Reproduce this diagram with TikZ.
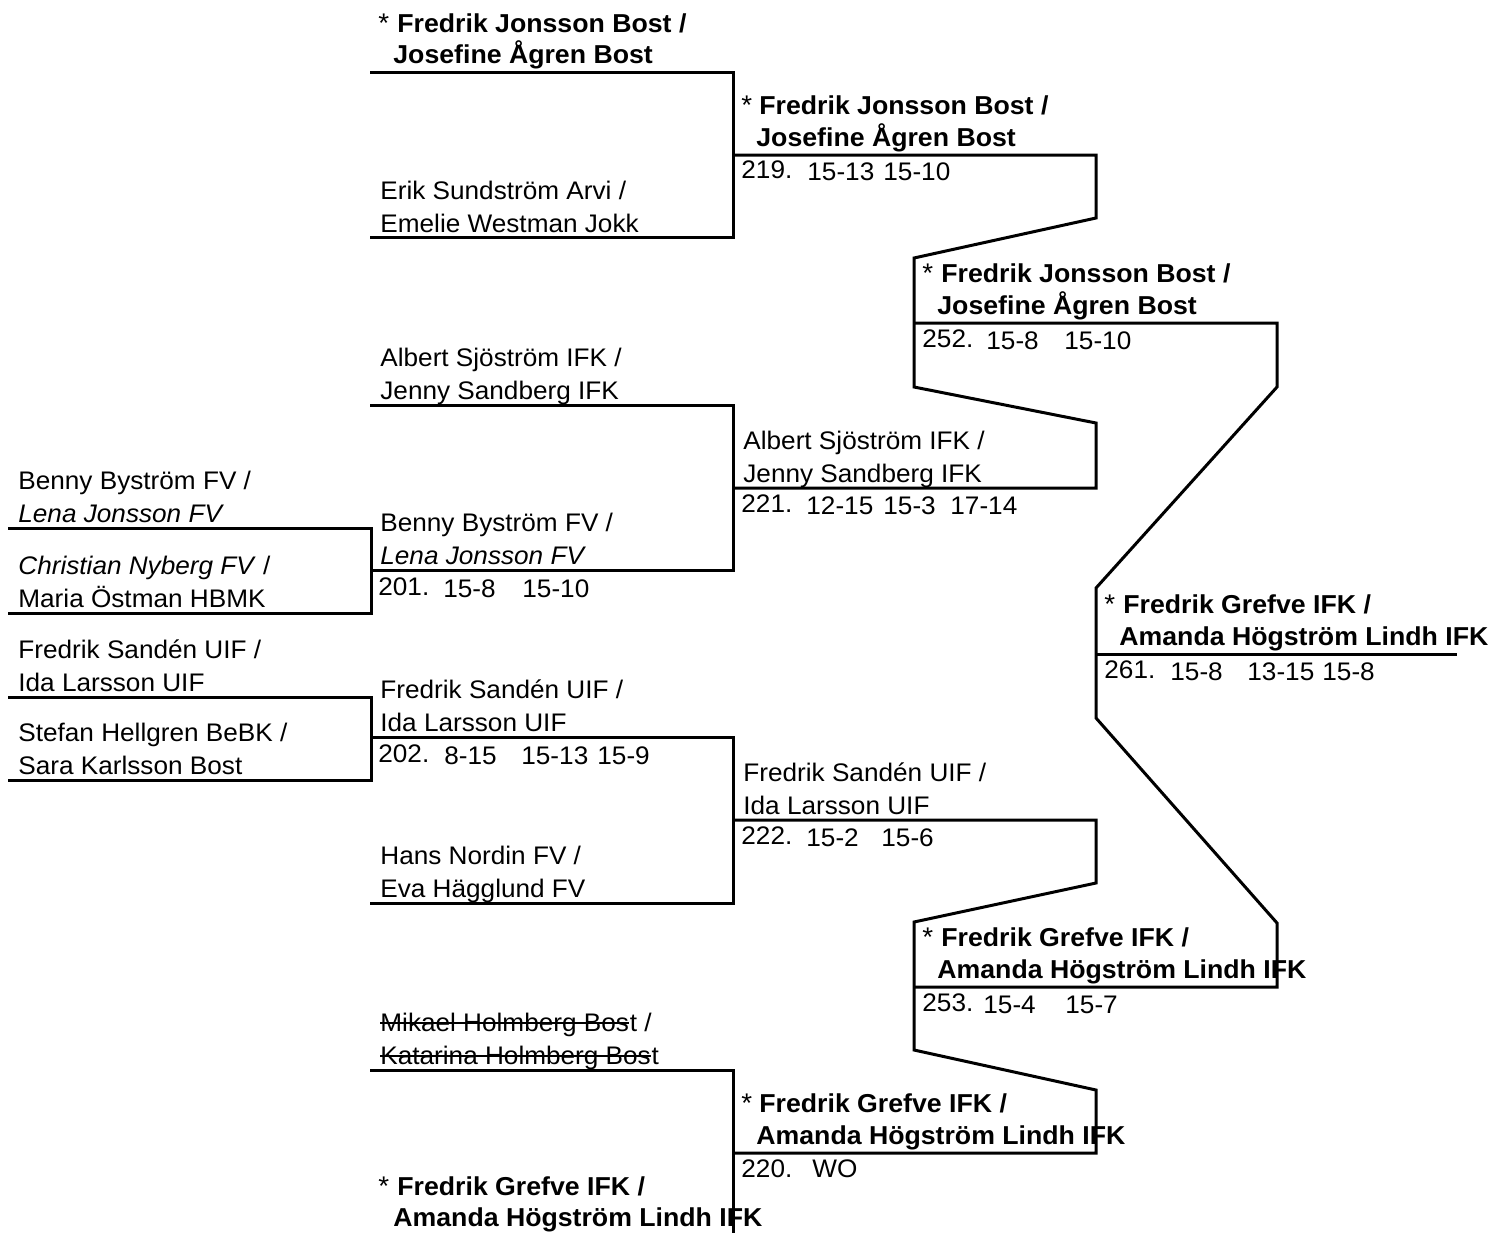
\documentclass[tikz,border=0pt]{standalone}
\usepackage{fontspec}
\newfontfamily\regfont{Liberation Sans}[FakeStretch=1.03]
\newfontfamily\boldfont{Liberation Sans}[FakeStretch=1.03]
\begin{document}
\begin{tikzpicture}[x=0.5pt,y=-0.5pt,
  ln/.style={line width=1.5pt, line join=miter},
  strike/.style={line width=0.9pt},
  nm/.style={anchor=base west, inner sep=0pt, font=\regfont\fontsize{12.7pt}{15pt}\selectfont},
  bnm/.style={anchor=base west, inner sep=0pt, font=\boldfont\bfseries\fontsize{12.95pt}{15pt}\selectfont},
  ast/.style={anchor=base west, inner sep=0pt, font=\boldfont\fontsize{13.5pt}{15pt}\selectfont}]
\useasboundingbox (0,0) rectangle (1493,1232);
\clip (0,0) rectangle (1493,1232);
\fill[white] (0,0) rectangle (1493,1232);

% ---------- bracket lines ----------
% round 0
\draw[ln] (8,528) -- (371,528) -- (371,613) -- (8,613);
\draw[ln] (8,697) -- (371,697) -- (371,780) -- (8,780);
% round 1
\draw[ln] (370,72) -- (733,72) -- (733,237) -- (370,237);
\draw[ln] (370,405) -- (733,405) -- (733,570) -- (370,570);
\draw[ln] (370,737) -- (733,737) -- (733,903) -- (370,903);
\draw[ln] (370,1070) -- (733,1070) -- (733,1245);
% round 2 with connectors to round 3
\draw[ln] (733,155) -- (1096,155) -- (1096,218) -- (914,258) -- (914,387) -- (1096,423) -- (1096,488) -- (733,488);
\draw[ln] (733,820) -- (1096,820) -- (1096,883) -- (914,922) -- (914,1050) -- (1096,1090) -- (1096,1153) -- (733,1153);
% round 3 with connectors to final
\draw[ln] (914,323) -- (1277,323) -- (1277,387) -- (1096,588) -- (1096,718) -- (1277,923) -- (1277,987) -- (914,987);
% final
\draw[ln] (1096,654) -- (1457,654);

% ---------- round 0 names ----------
\node[nm] (a1) at (18,489) {Benny Byström FV /};
\node[nm] (a2) at (18,522) {\itshape Lena Jonsson FV};
\node[nm] (a3) at (18,574) {\textit{Christian Nyberg FV} /};
\node[nm] (a4) at (18,607) {Maria Östman HBMK};
\node[nm] (a5) at (18,658) {Fredrik Sandén UIF /};
\node[nm] (a6) at (18,691) {Ida Larsson UIF};
\node[nm] (a7) at (18,741) {Stefan Hellgren BeBK /};
\node[nm] (a8) at (18,774) {Sara Karlsson Bost};

% ---------- round 1 names ----------
\node[ast] (b1s) at (378,32) {*};
\node[bnm] (b1) at (397,32) {Fredrik Jonsson Bost /};
\node[bnm] (b2) at (393,63) {Josefine Ågren Bost};
\node[nm] (b3) at (380,199) {Erik Sundström Arvi /};
\node[nm] (b4) at (380,232) {Emelie Westman Jokk};
\node[nm] (b5) at (380,366) {Albert Sjöström IFK /};
\node[nm] (b6) at (380,399) {Jenny Sandberg IFK};
\node[nm] (b7) at (380,531) {Benny Byström FV /};
\node[nm] (b8) at (380,564) {\itshape Lena Jonsson FV};
\node[nm] (r201) at (378,595) {201.};
\node[nm] (r201a) at (443,597) {15-8};
\node[nm] (r201b) at (522,597) {15-10};
\node[nm] (b9) at (380,698) {Fredrik Sandén UIF /};
\node[nm] (b10) at (380,731) {Ida Larsson UIF};
\node[nm] (r202) at (378,762) {202.};
\node[nm] (r202a) at (444,764) {8-15};
\node[nm] (r202b) at (521,764) {15-13};
\node[nm] (r202c) at (597,764) {15-9};
\node[nm] (b11) at (380,864) {Hans Nordin FV /};
\node[nm] (b12) at (380,897) {Eva Hägglund FV};
\node[nm] (b13) at (380,1031) {Mikael Holmberg Bos};
\node[nm] (b13t) at (b13.base east) {t /};
\draw[strike] ([yshift=4.2pt]b13.base west) -- ([yshift=4.2pt]b13.base east);
\node[nm] (b14) at (380,1064) {Katarina Holmberg Bos};
\node[nm] (b14t) at (b14.base east) {t};
\draw[strike] ([yshift=4.2pt]b14.base west) -- ([yshift=4.2pt]b14.base east);
\node[ast] (b15s) at (378,1195) {*};
\node[bnm] (b15) at (397,1195) {Fredrik Grefve IFK /};
\node[bnm] (b16) at (393,1226) {Amanda Högström Lindh IFK};

% ---------- round 2 ----------
\node[ast] (c1s) at (741,114) {*};
\node[bnm] (c1) at (759,114) {Fredrik Jonsson Bost /};
\node[bnm] (c2) at (756,146) {Josefine Ågren Bost};
\node[nm] (r219) at (741,178) {219.};
\node[nm] (r219a) at (807,180) {15-13};
\node[nm] (r219b) at (883,180) {15-10};
\node[nm] (c3) at (743,449) {Albert Sjöström IFK /};
\node[nm] (c4) at (743,482) {Jenny Sandberg IFK};
\node[nm] (r221) at (741,512) {221.};
\node[nm] (r221a) at (806,514) {12-15};
\node[nm] (r221b) at (883,514) {15-3};
\node[nm] (r221c) at (950,514) {17-14};
\node[nm] (c5) at (743,781) {Fredrik Sandén UIF /};
\node[nm] (c6) at (743,814) {Ida Larsson UIF};
\node[nm] (r222) at (741,844) {222.};
\node[nm] (r222a) at (806,846) {15-2};
\node[nm] (r222b) at (881,846) {15-6};
\node[ast] (c7s) at (741,1112) {*};
\node[bnm] (c7) at (759,1112) {Fredrik Grefve IFK /};
\node[bnm] (c8) at (756,1144) {Amanda Högström Lindh IFK};
\node[nm] (r220) at (741,1177) {220.};
\node[nm] (r220a) at (812,1177) {WO};

% ---------- round 3 ----------
\node[ast] (d1s) at (922,282) {*};
\node[bnm] (d1) at (941,282) {Fredrik Jonsson Bost /};
\node[bnm] (d2) at (937,314) {Josefine Ågren Bost};
\node[nm] (r252) at (922,347) {252.};
\node[nm] (r252a) at (986,349) {15-8};
\node[nm] (r252b) at (1064,349) {15-10};
\node[ast] (d3s) at (922,946) {*};
\node[bnm] (d3) at (941,946) {Fredrik Grefve IFK /};
\node[bnm] (d4) at (937,978) {Amanda Högström Lindh IFK};
\node[nm] (r253) at (922,1011) {253.};
\node[nm] (r253a) at (983,1013) {15-4};
\node[nm] (r253b) at (1065,1013) {15-7};

% ---------- final ----------
\node[ast] (e1s) at (1104,613) {*};
\node[bnm] (e1) at (1123,613) {Fredrik Grefve IFK /};
\node[bnm] (e2) at (1119,645) {Amanda Högström Lindh IFK};
\node[nm] (r261) at (1104,678) {261.};
\node[nm] (r261a) at (1170,680) {15-8};
\node[nm] (r261b) at (1247,680) {13-15};
\node[nm] (r261c) at (1322,680) {15-8};
\end{tikzpicture}
\end{document}
